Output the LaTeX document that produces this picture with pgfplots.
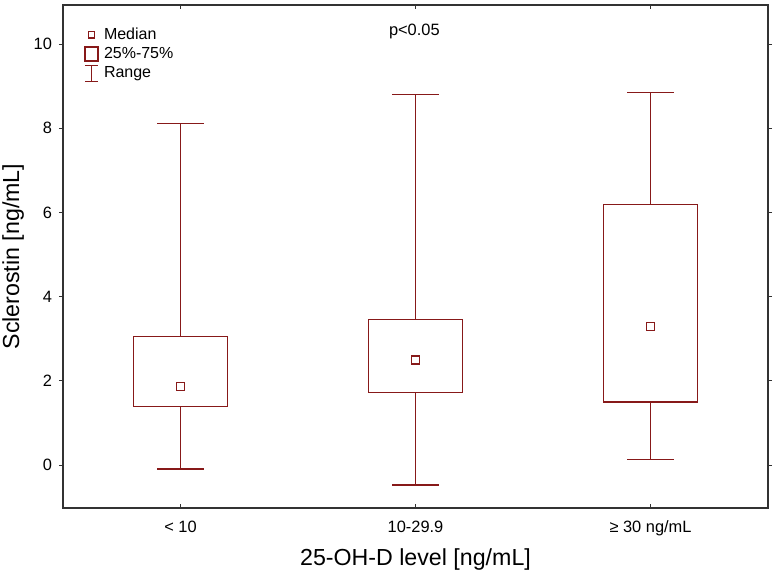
\documentclass[border=0pt]{standalone}
\usepackage{fontspec}
\setmainfont{Liberation Sans}
\usepackage{pgfplots}
\pgfplotsset{compat=1.18}
\usepgfplotslibrary{statistics}
\definecolor{boxred}{RGB}{135,25,25}
\definecolor{axgray}{RGB}{50,50,50}

\begin{document}
\begin{tikzpicture}
\begin{axis}[
  scale only axis, width=352.5pt, height=251.5pt,
  xmin=0.5, xmax=3.5, ymin=-1.02, ymax=10.93,
  xtick={1,2,3},
  xticklabels={< 10, 10-29.9, ≥ 30 ng/mL},
  ytick={0,2,4,6,8,10},
  xtick align=inside, ytick align=outside,
  major tick length=2pt,
  axis line style={axgray, line width=0.6pt},
  tick style={axgray, line width=0.5pt},
  /pgf/number format/assume math mode=true,
  tick label style={font=\fontsize{8.2}{9.8}\selectfont},
  xticklabel style={yshift=-3pt},
  xlabel={25-OH-D level [ng/mL]},
  ylabel={Sclerostin [ng/mL]},
  every axis x label/.style={at={(axis description cs:0.5,-0.1014)}, anchor=center, font=\fontsize{11.6}{13}\selectfont},
  every axis y label/.style={at={(axis description cs:-0.0709,0.5)}, rotate=90, anchor=center, font=\fontsize{11.6}{13}\selectfont},
  boxplot/draw direction=y,
  boxplot/draw/median/.code={},
  legend style={at={(axis description cs:0,1)}, anchor=north west, xshift=7.5pt, yshift=-7pt,
    draw=none, fill=none, font=\fontsize{8}{9.6}\selectfont, row sep=-1.5pt,
    cells={anchor=west}},
]
% legend entries (same invisible frame so all images are centred)
\addlegendimage{legend image code/.code={\path[draw=none,fill=none] (-3.25pt,-4pt) rectangle (4.25pt,4pt);
  \draw[boxred, line width=0.7pt] (-1.6pt,-1.6pt) rectangle (1.6pt,1.6pt);}}
\addlegendentry{Median}
\addlegendimage{legend image code/.code={\path[draw=none,fill=none] (-3.25pt,-4pt) rectangle (4.25pt,4pt);
  \draw[boxred, line width=0.6pt] (-3.25pt,-3.5pt) rectangle (3.25pt,3.5pt);}}
\addlegendentry{25\%-75\%}
\addlegendimage{legend image code/.code={\path[draw=none,fill=none] (-3.25pt,-4pt) rectangle (4.25pt,4pt);
  \draw[boxred, line width=0.6pt] (0,-4pt) -- (0,4pt) (-3.25pt,4pt) -- (3.25pt,4pt) (-3.25pt,-4pt) -- (3.25pt,-4pt);}}
\addlegendentry{Range}

% boxes
\addplot[boxred, line width=0.6pt, forget plot, boxplot prepared={draw position=1,
  median=1.87, lower quartile=1.40, upper quartile=3.05,
  lower whisker=-0.095, upper whisker=8.12, box extend=0.4, whisker extend=0.2}]
  coordinates {};
\addplot[boxred, line width=0.6pt, forget plot, boxplot prepared={draw position=2,
  median=2.49, lower quartile=1.73, upper quartile=3.46,
  lower whisker=-0.475, upper whisker=8.80, box extend=0.4, whisker extend=0.2}]
  coordinates {};
\addplot[boxred, line width=0.6pt, forget plot, boxplot prepared={draw position=3,
  median=3.29, lower quartile=1.50, upper quartile=6.19,
  lower whisker=0.14, upper whisker=8.85, box extend=0.4, whisker extend=0.2}]
  coordinates {};

% medians
\addplot[only marks, mark=square, mark size=2pt, boxred, line width=0.8pt, forget plot]
  coordinates {(1,1.87) (2,2.49) (3,3.29)};

\node[font=\fontsize{8.2}{9.8}\selectfont] at (axis cs:1.995,10.29) {p<0.05};
\end{axis}
\pgfresetboundingbox
\useasboundingbox (-31.5pt,-33.5pt) rectangle (355.5pt,254pt);
\end{tikzpicture}
\end{document}
